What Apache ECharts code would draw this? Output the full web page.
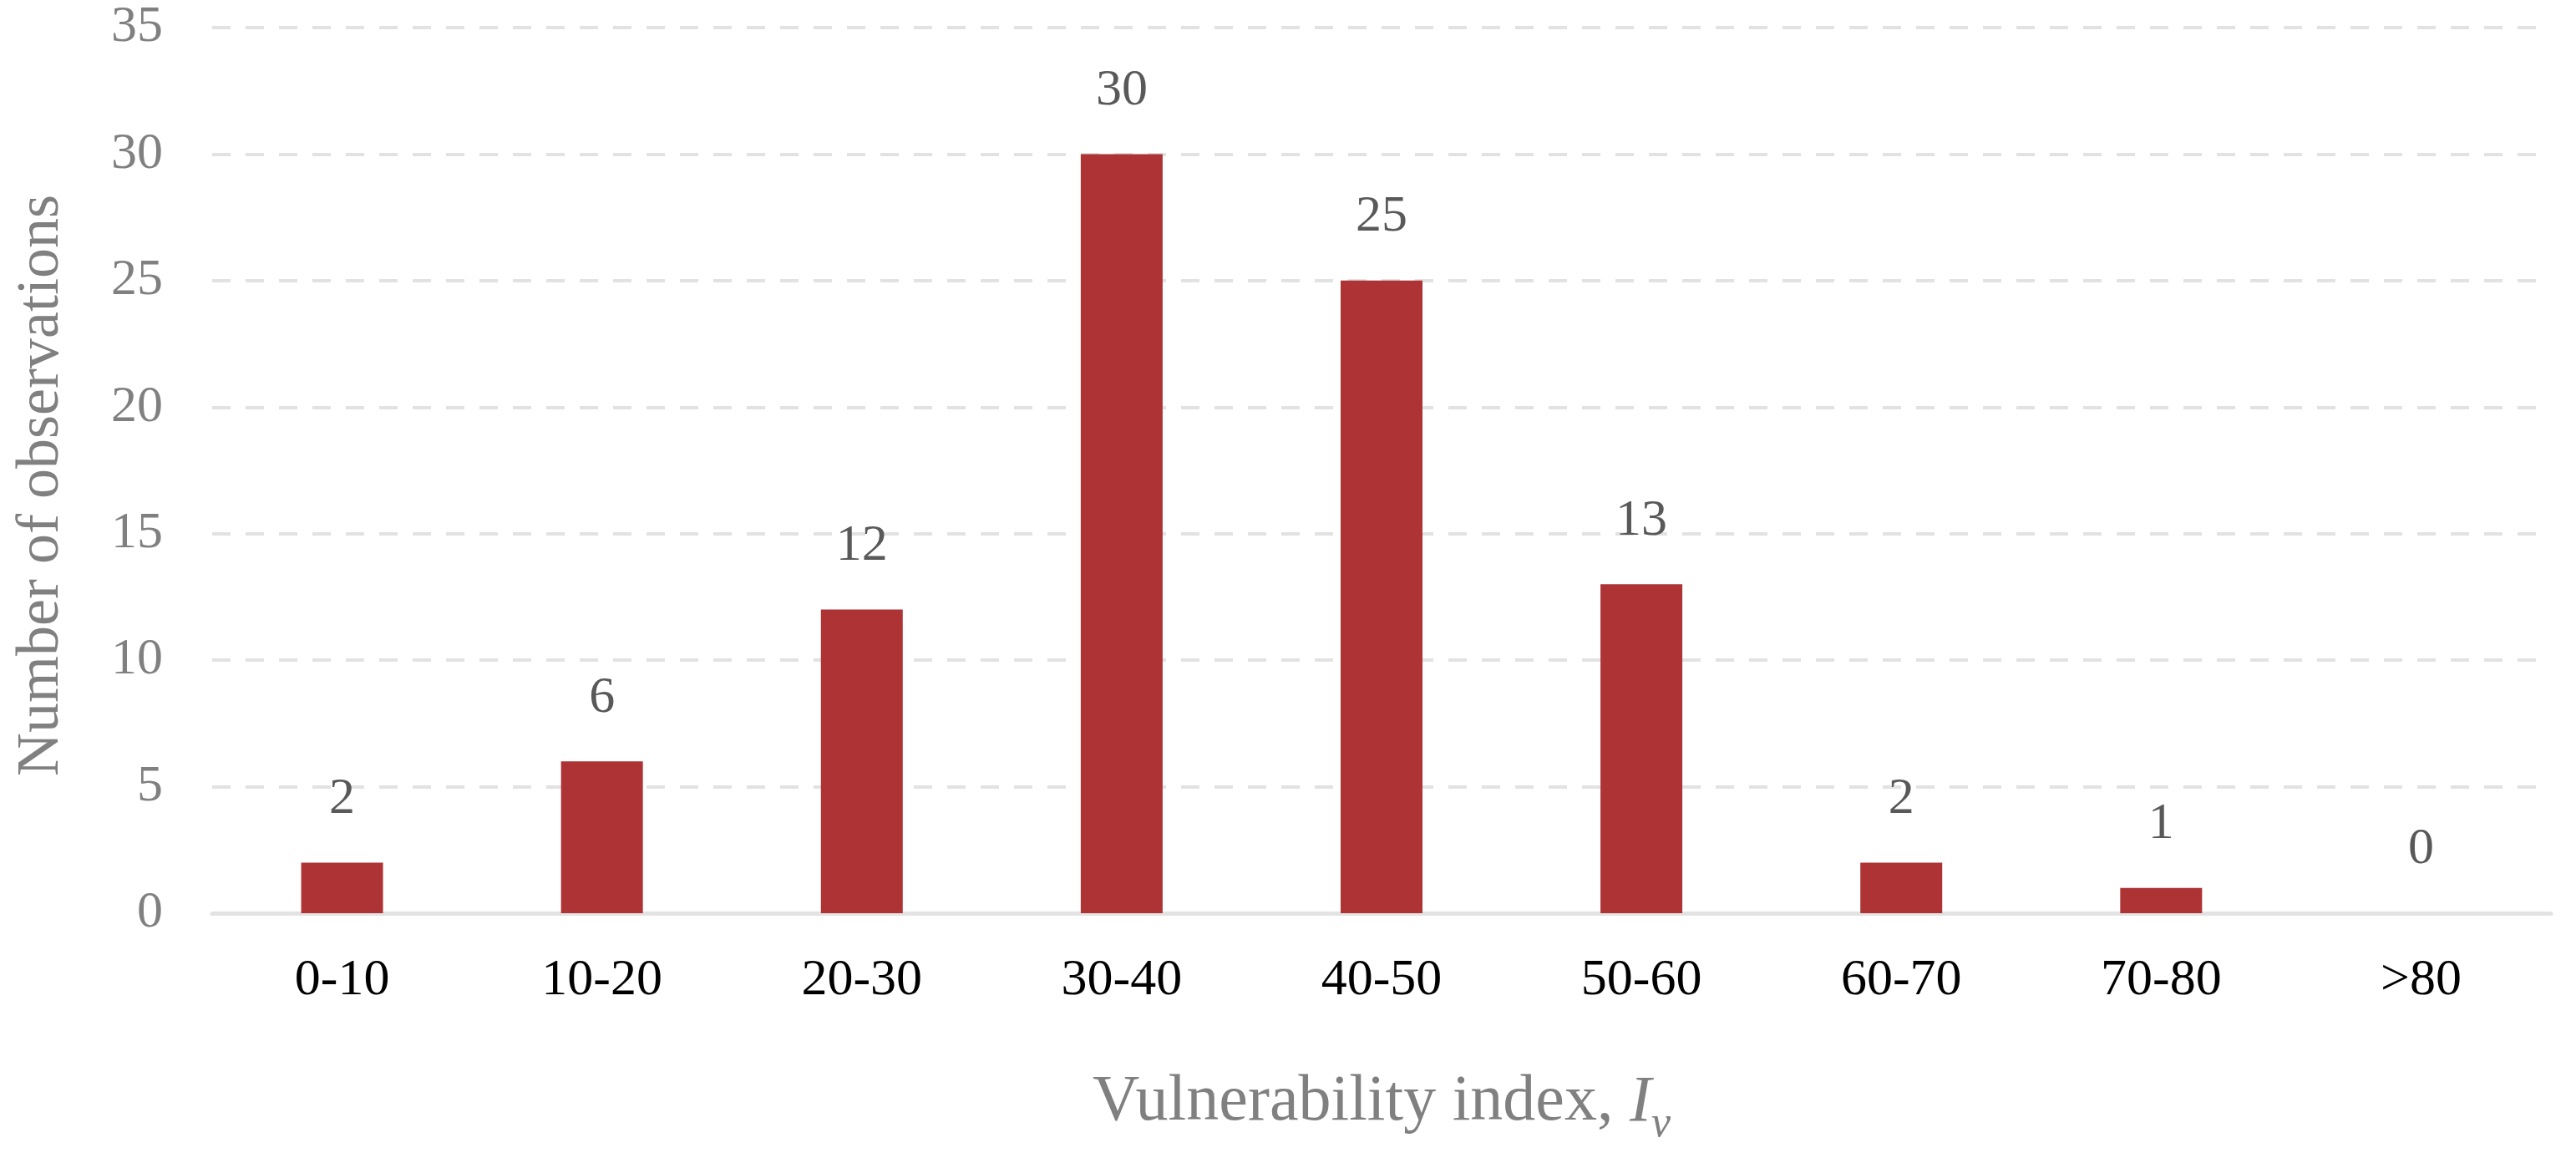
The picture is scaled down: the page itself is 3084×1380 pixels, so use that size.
<!DOCTYPE html>
<html>
<head>
<meta charset="utf-8">
<title>Vulnerability index</title>
<script src="https://cdn.jsdelivr.net/npm/echarts@6/dist/echarts.min.js"></script>
<style>
    html, body { margin: 0; padding: 0; background: #fff; }
    #main { width: 3084px; height: 1380px; }
</style>
</head>
<body>
<div id="main"></div>
<script>
// 数据
var categories = ['0-10', '10-20', '20-30', '30-40', '40-50', '50-60', '60-70', '70-80', '>80'];
var counts = [2, 6, 12, 30, 25, 13, 2, 1, 0];
var yMin = 0;
var yMax = 35;
var yStep = 5;

var serif = "'Liberation Serif', 'Times New Roman', serif";

function getID(ID) {
    return document.getElementById(ID);
}

var myChart = echarts.init(getID('main'));

var option = {
    backgroundColor: '#ffffff',
    animation: false,
    grid: {
        left: 254,
        right: 30,
        top: 33,
        bottom: 287
    },
    xAxis: {
        type: 'category',
        data: categories,
        axisTick: { show: false },
        axisLine: {
            lineStyle: { color: '#e3e3e3', width: 5 }
        },
        axisLabel: {
            color: '#000000',
            fontFamily: serif,
            fontSize: 62,
            margin: 50
        },
        name: '{n|Vulnerability index, }{i|I}{s|v}',
        nameLocation: 'middle',
        nameGap: 175,
        nameTextStyle: {
            rich: {
                n: { fontFamily: serif, fontSize: 78, color: '#808080' },
                i: { fontFamily: serif, fontSize: 78, fontStyle: 'italic', color: '#808080' },
                s: { fontFamily: serif, fontSize: 52, fontStyle: 'italic', color: '#808080', padding: [52, 0, 0, 0] }
            }
        }
    },
    yAxis: {
        type: 'value',
        min: yMin,
        max: yMax,
        interval: yStep,
        axisLine: { show: false },
        axisTick: { show: false },
        axisLabel: {
            color: '#808080',
            fontFamily: serif,
            fontSize: 62,
            margin: 59
        },
        splitLine: {
            lineStyle: { color: '#e2e2e2', width: 4, type: [22, 18] }
        },
        name: 'Number of observations',
        nameLocation: 'middle',
        nameGap: 168,
        nameTextStyle: {
            color: '#808080',
            fontFamily: serif,
            fontSize: 72,
            padding: [0, 36, 0, 0]
        }
    },
    series: [{
        name: 'observations',
        type: 'bar',
        data: counts,
        barWidth: '31.5%',
        itemStyle: { color: '#ae3335' },
        label: {
            show: true,
            position: 'top',
            distance: 45,
            color: '#595959',
            fontFamily: serif,
            fontSize: 62
        }
    }]
};
myChart.setOption(option);
</script>
</body>
</html>
